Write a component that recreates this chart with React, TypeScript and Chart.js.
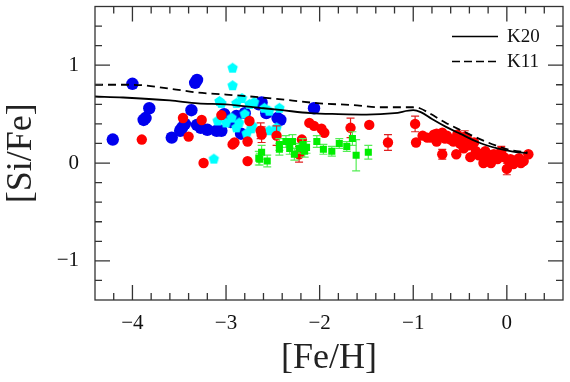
import React, { useEffect, useRef } from 'react';
import { Chart, registerables } from 'chart.js';
Chart.register(...registerables);

// ---- model curves ----
const K20_FEH = [-4.4, -4.1, -3.6, -3.3, -3.0, -2.6, -2.4, -2.1, -1.8, -1.5, -1.2, -1.0, -0.92, -0.8, -0.65, -0.5, -0.3, -0.1, 0.05, 0.22];
const K20_SIFE = [0.68, 0.67, 0.64, 0.61, 0.6, 0.56, 0.54, 0.51, 0.5, 0.495, 0.51, 0.54, 0.52, 0.45, 0.37, 0.3, 0.21, 0.15, 0.12, 0.1];
const K11_FEH = [-4.4, -4.0, -3.6, -3.3, -3.0, -2.5, -2.0, -1.6, -1.37, -1.0, -0.93, -0.83, -0.65, -0.48, -0.3, -0.12, 0.05, 0.22];
const K11_SIFE = [0.8, 0.8, 0.76, 0.72, 0.7, 0.66, 0.61, 0.59, 0.57, 0.57, 0.56, 0.51, 0.41, 0.33, 0.25, 0.18, 0.13, 0.11];

// ---- blue circles ----
const BLUE_FEH = [-4.21, -4.0, -3.82, -3.86, -3.88, -3.58, -3.49, -3.47, -3.44, -3.37, -3.33, -3.31, -3.31, -3.2, -3.1, -3.05, -3.02, -3.27, -2.89, -2.84, -2.95, -2.65, -2.62, -2.45, -2.42, -2.06, -2.8, -2.57];
const BLUE_SIFE = [0.24, 0.81, 0.56, 0.46, 0.44, 0.26, 0.33, 0.36, 0.4, 0.54, 0.82, 0.85, 0.39, 0.34, 0.33, 0.33, 0.5, 0.36, 0.48, 0.3, 0.42, 0.6, 0.62, 0.46, 0.44, 0.56, 0.51, 0.51];

// ---- cyan pentagons ----
const CYAN_FEH = [-3.13, -3.09, -3.07, -3.05, -3.0, -2.94, -2.93, -2.93, -2.89, -2.89, -2.86, -2.83, -2.78, -2.75, -2.73, -2.72, -2.59, -2.54, -2.54, -2.46, -2.43, -2.8, -2.7];
const CYAN_SIFE = [0.04, 0.43, 0.63, 0.61, 0.41, 0.46, 0.97, 0.79, 0.61, 0.36, 0.41, 0.66, 0.3, 0.6, 0.35, 0.38, 0.56, 0.53, 0.33, 0.36, 0.56, 0.5, 0.62];

// ---- red circles ----
const RED_FEH = [-3.9, -3.46, -3.4, -3.26, -3.24, -3.05, -2.93, -2.91, -2.77, -2.77, -2.75, -2.63, -2.62, -2.46, -2.19, -2.22, -2.11, -2.06, -1.98, -1.95, -1.67, -1.47, -1.27, -0.98, -0.97,
  -0.9, -0.85, -0.81, -0.78, -0.75, -0.75, -0.72, -0.69, -0.69, -0.66, -0.64, -0.6, -0.57, -0.54, -0.53, -0.5, -0.46, -0.45, -0.43, -0.4, -0.39, -0.35, -0.33, -0.3, -0.28, -0.25, -0.23, -0.21, -0.18, -0.17, -0.14, -0.1, -0.06, -0.03, 0.0, 0.02, 0.04, 0.07, 0.1, 0.13, 0.15, 0.18, 0.23];
const RED_SIFE = [0.24, 0.46, 0.27, 0.44, 0.0, 0.49, 0.19, 0.21, 0.22, 0.02, 0.43, 0.33, 0.29, 0.28, 0.24, 0.09, 0.41, 0.38, 0.35, 0.31, 0.36, 0.39, 0.21, 0.4, 0.21,
  0.28, 0.26, 0.26, 0.29, 0.3, 0.22, 0.27, 0.31, 0.09, 0.25, 0.28, 0.24, 0.22, 0.09, 0.29, 0.2, 0.15, 0.27, 0.26, 0.18, 0.06, 0.21, 0.12, 0.08, 0.09, 0.0, 0.12, 0.05, 0.08, 0.0, 0.09, 0.04, 0.12, 0.06, -0.06, 0.02, 0.04, -0.01, 0.03, 0.05, 0.0, 0.02, 0.09];
const RED_ERR = [0, 0, 0, 0, 0, 0, 0, 0, 0, 0, 0, 0.08, 0.08, 0.1, 0, 0.08, 0, 0, 0, 0, 0.1, 0, 0.08, 0.08, 0,
  0, 0, 0, 0, 0, 0, 0, 0, 0.05, 0, 0, 0, 0, 0, 0, 0, 0, 0.06, 0, 0, 0, 0, 0, 0, 0, 0, 0, 0, 0, 0, 0, 0, 0.05, 0, 0.06, 0, 0, 0, 0, 0, 0, 0, 0];

// ---- green squares ----
const GREEN_FEH = [-2.65, -2.62, -2.64, -2.56, -2.43, -2.43, -2.36, -2.29, -2.32, -2.27, -2.18, -2.14, -2.16, -2.03, -1.96, -1.87, -1.79, -1.71, -1.65, -1.61, -1.48, -2.22];
const GREEN_SIFE = [0.05, 0.11, 0.04, 0.02, 0.14, 0.19, 0.22, 0.22, 0.15, 0.09, 0.19, 0.16, 0.12, 0.22, 0.14, 0.12, 0.2, 0.17, 0.25, 0.08, 0.11, 0.15];
const GREEN_ERR = [0.07, 0.07, 0.06, 0.06, 0.06, 0.06, 0.06, 0.07, 0.06, 0.06, 0.06, 0.06, 0.06, 0.06, 0.05, 0.05, 0.05, 0.05, 0.07, 0.16, 0.07, 0.05];

const X_TICKS = [-4, -3, -2, -1, 0];
const Y_TICKS = [-1, 0, 1];
const LEGEND_LABELS = ['K20', 'K11'];

const SERIF = '"Liberation Serif", "Times New Roman", serif';

const pts = (xs: number[], ys: number[]) => xs.map((x, i) => ({ x, y: ys[i] }));
const fmt = (v: number) => (v < 0 ? '\u2212' + Math.abs(v) : String(v));

function makePentagon(r: number, color: string) {
  const c = document.createElement('canvas');
  const s = Math.ceil(r * 2 + 2);
  c.width = s;
  c.height = s;
  const ctx = c.getContext('2d')!;
  ctx.beginPath();
  for (let i = 0; i < 5; i++) {
    const a = -Math.PI / 2 + (i * 2 * Math.PI) / 5;
    ctx.lineTo(s / 2 + r * Math.cos(a), s / 2 + r * Math.sin(a));
  }
  ctx.closePath();
  ctx.fillStyle = color;
  ctx.fill();
  return c;
}

const errorBarPlugin = {
  id: 'errbars',
  beforeDatasetDraw(chart: any, args: any) {
    const ds = chart.data.datasets[args.index];
    if (!ds.errs) return;
    const { ctx } = chart;
    const xs = chart.scales.x, ys = chart.scales.y;
    ctx.save();
    ctx.strokeStyle = ds.errColor;
    ctx.lineWidth = 1.2;
    ds.data.forEach((p: any, i: number) => {
      const e = ds.errs[i];
      if (!e) return;
      const px = xs.getPixelForValue(p.x);
      const y1 = ys.getPixelForValue(p.y - e);
      const y2 = ys.getPixelForValue(p.y + e);
      ctx.beginPath();
      ctx.moveTo(px, y1); ctx.lineTo(px, y2);
      ctx.moveTo(px - 4, y1); ctx.lineTo(px + 4, y1);
      ctx.moveTo(px - 4, y2); ctx.lineTo(px + 4, y2);
      ctx.stroke();
    });
    ctx.restore();
  },
};

const framePlugin = {
  id: 'frameTicks',
  afterDraw(chart: any) {
    const { ctx, chartArea } = chart;
    const { left, right, top, bottom } = chartArea;
    const xs = chart.scales.x, ys = chart.scales.y;
    ctx.save();
    ctx.strokeStyle = '#333';
    ctx.lineWidth = 1.3;
    ctx.strokeRect(left, top, right - left, bottom - top);
    ctx.beginPath();
    for (let i = Math.ceil(xs.min * 5); i <= Math.floor(xs.max * 5); i++) {
      const px = xs.getPixelForValue(i / 5);
      if (px <= left + 1 || px >= right - 1) continue;
      const len = i % 5 === 0 ? 15 : 7;
      ctx.moveTo(px, bottom); ctx.lineTo(px, bottom - len);
      ctx.moveTo(px, top); ctx.lineTo(px, top + len);
    }
    for (let i = Math.ceil(ys.min * 5); i <= Math.floor(ys.max * 5); i++) {
      const py = ys.getPixelForValue(i / 5);
      if (py <= top + 1 || py >= bottom - 1) continue;
      const len = i % 5 === 0 ? 15 : 7;
      ctx.moveTo(left, py); ctx.lineTo(left + len, py);
      ctx.moveTo(right, py); ctx.lineTo(right - len, py);
    }
    ctx.stroke();

    // legend
    ctx.font = '19px ' + SERIF;
    ctx.fillStyle = '#111';
    ctx.textBaseline = 'middle';
    ctx.strokeStyle = '#000';
    ctx.lineWidth = 1.5;
    LEGEND_LABELS.forEach((lab, i) => {
      const y = top + 30 + i * 25;
      ctx.setLineDash(i === 1 ? [8, 4] : []);
      ctx.beginPath();
      ctx.moveTo(right - 111, y);
      ctx.lineTo(right - 65, y);
      ctx.stroke();
      ctx.fillText(lab, right - 56, y + 1);
    });
    ctx.restore();
  },
};

export default function App() {
  const ref = useRef<HTMLCanvasElement>(null);
  useEffect(() => {
    const pent = makePentagon(5.5, '#00ffff');
    const chart = new Chart(ref.current!, {
      type: 'scatter',
      data: {
        datasets: [
          { type: 'line', label: 'K20', data: pts(K20_FEH, K20_SIFE), borderColor: '#000', borderWidth: 1.8, pointRadius: 0, cubicInterpolationMode: 'monotone', fill: false } as any,
          { type: 'line', label: 'K11', data: pts(K11_FEH, K11_SIFE), borderColor: '#000', borderWidth: 1.8, borderDash: [8, 5], pointRadius: 0, cubicInterpolationMode: 'monotone', fill: false } as any,
          { label: 'green', data: pts(GREEN_FEH, GREEN_SIFE), pointStyle: 'rect', pointRadius: 5, backgroundColor: '#00ee00', borderWidth: 0, errs: GREEN_ERR, errColor: '#55ee55' } as any,
          { label: 'red', data: pts(RED_FEH, RED_SIFE), pointStyle: 'circle', pointRadius: 5.2, backgroundColor: '#ff0000', borderWidth: 0, errs: RED_ERR, errColor: '#e02020' } as any,
          { label: 'cyan', data: pts(CYAN_FEH, CYAN_SIFE), pointStyle: pent, pointRadius: 5.5 } as any,
          { label: 'blue', data: pts(BLUE_FEH, BLUE_SIFE), pointStyle: 'circle', pointRadius: 6.2, backgroundColor: '#0000ee', borderWidth: 0 } as any,
        ],
      },
      options: {
        animation: false,
        responsive: false,
        layout: { padding: { top: 4, right: 7, left: 0, bottom: 0 } },
        plugins: { legend: { display: false }, tooltip: { enabled: false } },
        scales: {
          x: {
            type: 'linear', min: -4.4, max: 0.6,
            grid: { display: false, drawTicks: false },
            border: { display: false },
            afterBuildTicks: (s: any) => { s.ticks = X_TICKS.map((v) => ({ value: v })); },
            afterFit: (s: any) => { s.height = 82; s.paddingLeft = 0; s.paddingRight = 0; },
            ticks: { callback: (v: any) => fmt(Number(v)), font: { family: SERIF, size: 21 }, color: '#111', padding: 11, maxRotation: 0, autoSkip: false },
            title: { display: true, text: '[Fe/H]', font: { family: SERIF, size: 36 }, color: '#222', padding: { top: 0, bottom: 2 } },
          },
          y: {
            type: 'linear', min: -1.4, max: 1.6,
            grid: { display: false, drawTicks: false },
            border: { display: false },
            afterBuildTicks: (s: any) => { s.ticks = Y_TICKS.map((v) => ({ value: v })); },
            afterFit: (s: any) => { s.width = 95; s.paddingTop = 0; s.paddingBottom = 0; },
            ticks: { callback: (v: any) => fmt(Number(v)), font: { family: SERIF, size: 21 }, color: '#111', padding: 16, autoSkip: false },
            title: { display: true, text: '[Si/Fe]', font: { family: SERIF, size: 36 }, color: '#222', padding: { top: 0, bottom: 0 } },
          },
        },
      } as any,
      plugins: [errorBarPlugin, framePlugin],
    });
    return () => chart.destroy();
  }, []);
  return (
    <div style={{ position: 'fixed', left: 0, top: 0, width: 570, height: 382, background: '#fff' }}>
      <canvas ref={ref} width={570} height={382} />
    </div>
  );
}
